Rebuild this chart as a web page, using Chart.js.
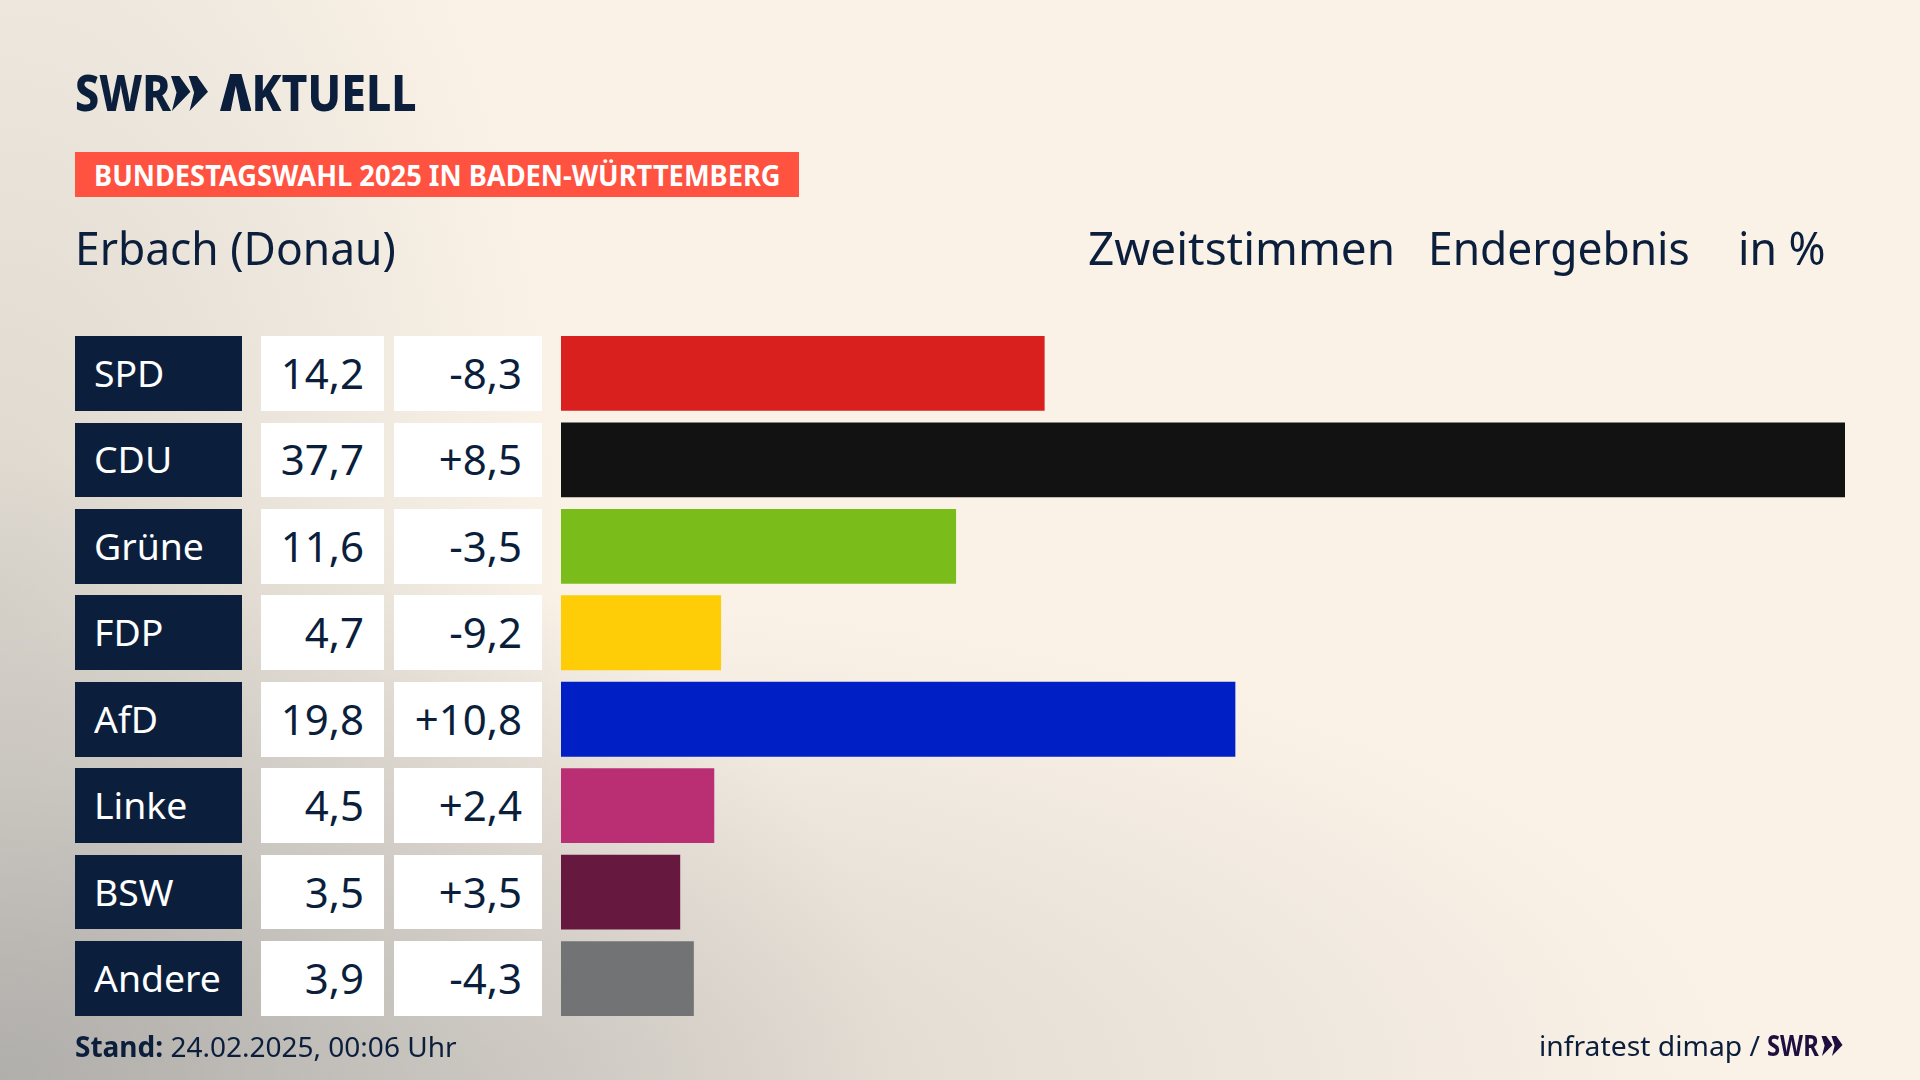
<!DOCTYPE html>
<html lang="de">
<head>
<meta charset="UTF-8">
<title>Bundestagswahl 2025 - Erbach (Donau)</title>
<script src="https://cdn.jsdelivr.net/npm/chart.js@4.4.3/dist/chart.umd.min.js"></script>
<style>
    html, body { margin: 0; padding: 0; width: 1920px; height: 1080px; overflow: hidden; }
    body {
        position: relative;
        font-family: "Noto Sans", sans-serif;
        color: #0b1f3d;
        background-color: #faf2e7;
        background-image:
            radial-gradient(ellipse 900px 620px at 0 100%, rgba(150,150,150,.62) 0%, rgba(170,170,168,.36) 50%, rgba(200,195,190,0) 100%),
            radial-gradient(ellipse 1250px 480px at 25% 100%, rgba(190,185,180,.55) 0%, rgba(200,195,190,0) 100%),
            radial-gradient(ellipse 560px 1000px at 0 55%, rgba(190,187,180,.5) 0%, rgba(200,195,190,0) 100%);
    }
    canvas { position: absolute; left: 0; top: 0; }
    .t { position: absolute; white-space: nowrap; transform-origin: 0 50%; }
    .cell { position: absolute; display: flex; align-items: center; box-sizing: border-box; padding-bottom: 2px; }
    .cell span { display: block; white-space: nowrap; }
    .name { left: 75px; width: 167px; background: #0b1f3d; color: #fff; padding-left: 19px; font-size: 37px; }
    .name span { transform: scaleX(1.01); transform-origin: 0 50%; }
    .val { background: #fff; justify-content: flex-end; font-size: 42px; }
    .share { left: 261px; width: 123px; padding-right: 20px; }
    .change { left: 394px; width: 148px; padding-right: 20px; }
    .head { font-size: 45px; top: 218px; line-height: 60px; }
    .tag { position: absolute; left: 75px; top: 152px; width: 724px; height: 45px; background: #ff5240; color: #fff; font-weight: 700; font-size: 29px; line-height: 45px; }
    .tag span { position: absolute; left: 19px; white-space: nowrap; transform: scaleX(.94); transform-origin: 0 50%; }
    .logo { font-weight: 800; font-size: 50px; line-height: 60px; }
    .noA { position: relative; display: inline-block; color: transparent; }
    .noA::after {
        content: ""; position: absolute; left: 0; right: 0; top: 12px; height: 37px; background: #0b1f3d;
        clip-path: polygon(0 100%, 32% 0, 68% 0, 100% 100%, 66% 100%, 50% 32%, 34% 100%);
    }
</style>
</head>
<body>
    <canvas id="chart" width="1920" height="1080"></canvas>

    <div class="t logo" style="left:75px;top:62px;transform:scaleX(.86)">SWR</div>
    <svg class="t" style="left:171px;top:75px" width="37" height="37" viewBox="0 0 40 38">
        <path d="M0 0h9l12 17L1 38l5-20zM19 0h9l12 17-20 21 5-20z" fill="#0b1f3d"/>
    </svg>
    <div class="t logo" style="left:220px;top:62px;transform:scaleX(.89)"><span class="noA">A</span>KTUELL</div>

    <div class="tag"><span>BUNDESTAGSWAHL 2025 IN BADEN-WÜRTTEMBERG</span></div>

    <div class="t head" style="left:75px;transform:scaleX(.985)">Erbach (Donau)</div>
    <div class="t head" style="left:1088px;transform:scaleX(1.02)">Zweitstimmen</div>
    <div class="t head" style="left:1428px;transform:scaleX(.985)">Endergebnis</div>
    <div class="t head" style="left:1738px;transform:scaleX(.99)">in %</div>

    <div class="t" style="left:75px;top:1027px;font-size:28px;line-height:38px"><b>Stand:</b> 24.02.2025, 00:06 Uhr</div>
    <div class="t" style="left:1539px;top:1026px;font-size:28px;line-height:38px;transform:scaleX(1.01)">infratest dimap /</div>
    <div class="t" style="left:1767px;top:1026px;font-size:28px;line-height:38px;font-weight:700;color:#1f0f3f;transform:scaleX(.85)">SWR</div>
    <svg class="t" style="left:1821px;top:1036px" width="22" height="20" viewBox="0 0 40 38">
        <path d="M0 0h9l12 17L1 38l5-20zM19 0h9l12 17-20 21 5-20z" fill="#1f0f3f"/>
    </svg>

    <script>
        const parties = ['SPD', 'CDU', 'Grüne', 'FDP', 'AfD', 'Linke', 'BSW', 'Andere'];
        const shares = [14.2, 37.7, 11.6, 4.7, 19.8, 4.5, 3.5, 3.9];
        const changes = [-8.3, 8.5, -3.5, -9.2, 10.8, 2.4, 3.5, -4.3];
        const barColors = ['#d9201f', '#121212', '#7abd1a', '#ffcc08', '#0020c6', '#ba2f74', '#66183f', '#727375'];

        const fmt = (num) => Math.abs(num).toFixed(1).replace('.', ',');
        const fmtChange = (num) => (num < 0 ? '-' : '+') + fmt(num);

        const chart = new Chart(document.getElementById('chart'), {
            type: 'bar',
            data: {
                labels: parties,
                datasets: [{
                    data: shares,
                    backgroundColor: barColors,
                    borderWidth: 0,
                    barPercentage: 0.866,
                    categoryPercentage: 1
                }]
            },
            options: {
                indexAxis: 'y',
                responsive: false,
                animation: false,
                devicePixelRatio: 1,
                layout: { padding: { left: 561, right: 75, top: 330.2, bottom: 58.2 } },
                scales: {
                    x: { display: false, min: 0, max: 37.7 },
                    y: { display: false }
                },
                plugins: { legend: { display: false }, tooltip: { enabled: false } }
            }
        });

        // the table cells left of the bars, placed on the chart's own rows
        const yScale = chart.scales.y;
        const rowH = 74.7;
        const addCell = (cls, text, i) => {
            const cell = document.createElement('div');
            cell.className = 'cell ' + cls;
            cell.style.top = (yScale.getPixelForValue(i) - rowH / 2) + 'px';
            cell.style.height = rowH + 'px';
            const span = document.createElement('span');
            span.textContent = text;
            cell.appendChild(span);
            document.body.appendChild(cell);
        };
        parties.forEach((party, i) => {
            addCell('name', party, i);
            addCell('val share', fmt(shares[i]), i);
            addCell('val change', fmtChange(changes[i]), i);
        });
    </script>
</body>
</html>
